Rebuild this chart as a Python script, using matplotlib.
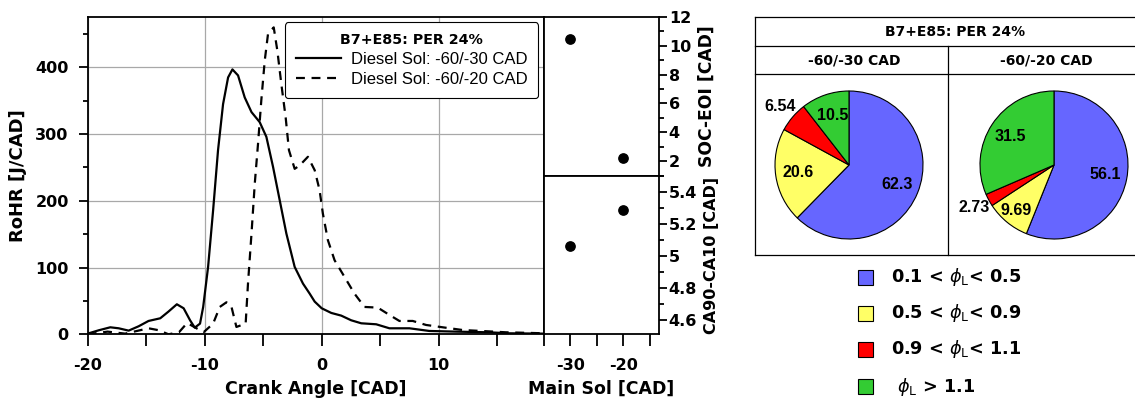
import matplotlib
matplotlib.use('Agg')
import matplotlib.pyplot as plt
from matplotlib.lines import Line2D
from matplotlib.patches import Rectangle
from matplotlib.ticker import MultipleLocator, FixedLocator
import numpy as np

plt.rcParams['font.family'] = ['DejaVu Sans']
plt.rcParams['axes.unicode_minus'] = False
plt.rcParams['axes.linewidth'] = 1.3

# ---- data ----
crank_sol30 = [-20, -19.06, -18.07, -17.35, -16.5, -15.65, -14.8, -13.8, -13.1, -12.38, -11.8,
               -11.25, -10.85, -10.4, -10.13, -9.71, -9.28, -8.86, -8.43, -8.0, -7.63, -7.15,
               -6.58, -6.0, -5.3, -4.73, -4.16, -3.59, -3.02, -2.31, -1.6, -1.03, -0.6, 0,
               0.82, 1.67, 2.52, 3.38, 4.66, 5.79, 7.5, 9.2, 11.48, 14.3, 16.0, 19]
rohr_sol30 = [1, 6, 10.5, 9, 5.5, 12, 20, 24, 34, 45, 39,
              21, 10, 16, 41, 101, 186, 276, 345, 385, 397, 388,
              355, 333, 318, 296, 251, 201, 151, 101, 76, 61, 49, 39,
              32, 28, 21, 16.5, 15, 9, 9, 5, 4, 3, 1.5, 1]

crank_sol20 = [-20, -18.3, -16.8, -14.8, -13.9, -13.1, -12.2, -11.5, -10.1, -9.28, -8.71, -8.14,
               -7.71, -7.29, -6.5, -6.3, -6.0, -5.72, -5.44, -5.16, -4.87, -4.59, -4.1, -3.79,
               -3.45, -3.08, -2.8, -2.31, -1.89, -1.18, -0.6, -0.18, 0.1, 0.53, 1.1, 1.95,
               2.8, 3.66, 4.79, 5.79, 6.64, 7.78, 8.92, 10.34, 12.05, 13.75, 15.75, 19]
rohr_sol20 = [0, 4, 1, 9, 6, 0, 3, 17, 3, 16, 41, 48,
              41, 11, 16, 76, 151, 226, 286, 351, 410, 450, 460, 425,
              375, 325, 276, 248, 253, 266, 246, 216, 181, 141, 111, 86,
              61, 41, 40, 29, 20, 20, 14, 10.5, 6.4, 4.9, 3, 1.5]

main_sol = [-30, -20]
soc_eoi = [10.45, 2.19]
ca90_ca10 = [5.064, 5.289]

cases = ['-60/-30 CAD', '-60/-20 CAD']
phi_classes = ['0.1 < $\\phi_{\\rm L}$< 0.5', '0.5 < $\\phi_{\\rm L}$< 0.9',
               '0.9 < $\\phi_{\\rm L}$< 1.1', ' $\\phi_{\\rm L}$ > 1.1']
share_sol30 = [62.3, 20.6, 6.54, 10.5]
share_sol20 = [56.1, 9.69, 2.73, 31.5]
share_labels30 = ['62.3', '20.6', '6.54', '10.5']
share_labels20 = ['56.1', '9.69', '2.73', '31.5']
phi_colors = ['#6666FF', '#FFFF66', '#FF0000', '#33CC33']

W, H = 1135, 403
fig = plt.figure(figsize=(W / 100, H / 100), dpi=100)


def box(l, t, r, b):
    return [l / W, 1 - b / H, (r - l) / W, (b - t) / H]


def bold_ticks(a):
    for t in a.get_xticklabels() + a.get_yticklabels():
        t.set_fontweight('bold')


# ---- RoHR plot ----
ax = fig.add_axes(box(87.7, 16.7, 544, 334.3))
ax.plot(crank_sol30, rohr_sol30, 'k-', lw=1.6, label='Diesel Sol: -60/-30 CAD')
ax.plot(crank_sol20, rohr_sol20, 'k--', lw=1.6, dashes=(4, 3), label='Diesel Sol: -60/-20 CAD')
ax.set_xlim(-20, 19)
ax.set_ylim(0, 476)
ax.xaxis.set_major_locator(MultipleLocator(10))
ax.xaxis.set_minor_locator(MultipleLocator(5))
ax.yaxis.set_major_locator(MultipleLocator(100))
ax.yaxis.set_minor_locator(MultipleLocator(50))
ax.grid(True, which='major', color='#a8a8a8', lw=0.9)
ax.tick_params(which='both', direction='out', width=1.3, labelsize=11.5)
ax.tick_params(axis='x', which='both', length=8.8, pad=8)
ax.tick_params(axis='y', which='major', length=6.7, pad=7)
ax.tick_params(axis='y', which='minor', length=3.6)
bold_ticks(ax)
ax.set_xlabel('Crank Angle [CAD]', fontsize=12.5, fontweight='bold', labelpad=5)
ax.set_ylabel('RoHR [J/CAD]', fontsize=13, fontweight='bold', labelpad=6)
leg = ax.legend(loc='upper right', bbox_to_anchor=(0.987, 0.982), borderaxespad=0,
                title='B7+E85: PER 24%',
                prop={'family': 'Liberation Sans', 'size': 12},
                title_fontproperties={'weight': 'bold', 'size': 10.3},
                handlelength=2.7, frameon=True, fancybox=True, edgecolor='k',
                borderpad=0.65, labelspacing=0.3, handletextpad=0.6)
leg.get_frame().set_linewidth(0.8)
leg.get_frame().set_alpha(1)

# ---- Main Sol panels ----
ax_u = fig.add_axes(box(544, 16.7, 659, 175.7))
ax_l = fig.add_axes(box(544, 175.7, 659, 334.3))
ax_u.scatter(main_sol, soc_eoi, s=45, color='k', zorder=3)
ax_l.scatter(main_sol, ca90_ca10, s=45, color='k', zorder=3)
for a in (ax_u, ax_l):
    a.set_xlim(-35, -13.3)
    a.xaxis.set_major_locator(FixedLocator([-30, -20]))
    a.xaxis.set_minor_locator(FixedLocator([-35, -25, -15]))
    a.yaxis.tick_right()
    a.yaxis.set_label_position('right')
    a.tick_params(which='both', direction='out', width=1.3, labelsize=11.5)
    a.tick_params(axis='y', which='major', length=5.5, pad=1.5)
    a.tick_params(axis='y', which='minor', length=3.6)
    a.tick_params(axis='x', which='both', length=8.8, pad=8)
ax_u.set_ylim(1, 12)
ax_u.yaxis.set_major_locator(MultipleLocator(2))
ax_u.yaxis.set_minor_locator(MultipleLocator(1))
ax_u.tick_params(axis='x', which='both', bottom=False, labelbottom=False)
ax_l.set_ylim(4.51, 5.5)
ax_l.yaxis.set_minor_locator(MultipleLocator(0.1))
ax_l.set_yticks([4.6, 4.8, 5.0, 5.2, 5.4])
ax_l.set_yticklabels(['4.6', '4.8', '5', '5.2', '5.4'])
for a in (ax_u, ax_l):
    bold_ticks(a)
ax_u.set_ylabel('SOC-EOI [CAD]', fontsize=12.3, fontweight='bold', labelpad=5)
ax_l.set_ylabel('CA90-CA10 [CAD]', fontsize=11.5, fontweight='bold', labelpad=5)
ax_l.set_xlabel('Main Sol [CAD]', fontsize=12.5, fontweight='bold', labelpad=5)


# ---- pie table ----
def fline(x0, y0, x1, y1):
    fig.add_artist(Line2D([x0 / W, x1 / W], [1 - y0 / H, 1 - y1 / H],
                          transform=fig.transFigure, color='k', lw=0.9))


fline(755, 17, 1135, 17)
fline(755, 45.7, 1135, 45.7)
fline(755, 74, 1135, 74)
fline(755, 255, 1135, 255)
fline(755, 17, 755, 255)
fline(948, 45.7, 948, 255)
fig.text(955 / W, 1 - 31.5 / H, 'B7+E85: PER 24%', ha='center', va='center',
         fontsize=10, fontweight='bold')
fig.text(854 / W, 1 - 60 / H, cases[0], ha='center', va='center', fontsize=10, fontweight='bold')
fig.text(1046 / W, 1 - 60 / H, cases[1], ha='center', va='center', fontsize=10, fontweight='bold')

for cx, shares, labels in [(849, share_sol30, share_labels30), (1054, share_sol20, share_labels20)]:
    pa = fig.add_axes(box(cx - 74, 165 - 74, cx + 74, 165 + 74))
    wedges, _ = pa.pie(shares, colors=phi_colors, startangle=90, counterclock=False,
                       radius=1, wedgeprops={'edgecolor': 'k', 'linewidth': 0.8})
    for w, lab, v in zip(wedges, labels, shares):
        ang = np.deg2rad((w.theta1 + w.theta2) / 2)
        d = 1.22 if v < 8 else (0.8 if v < 10 else 0.7)
        pa.text(d * np.cos(ang), d * np.sin(ang), lab, ha='center', va='center',
                fontsize=11.5, fontweight='bold', family='Liberation Sans')
    pa.set_xlim(-1, 1)
    pa.set_ylim(-1, 1)
    pa.set_aspect('equal')
    pa.axis('off')

# ---- phi legend ----
row_y = [277.5, 313, 349, 386.5]
for c, lab, y in zip(phi_colors, phi_classes, row_y):
    fig.add_artist(Rectangle((858 / W, 1 - (y + 7.5) / H), 15 / W, 15 / H,
                             transform=fig.transFigure, facecolor=c, edgecolor='k', lw=0.8))
    fig.text(891 / W, 1 - y / H, lab, ha='left', va='center', fontsize=12.7, fontweight='bold')

fig.savefig('out.png', dpi=100)
